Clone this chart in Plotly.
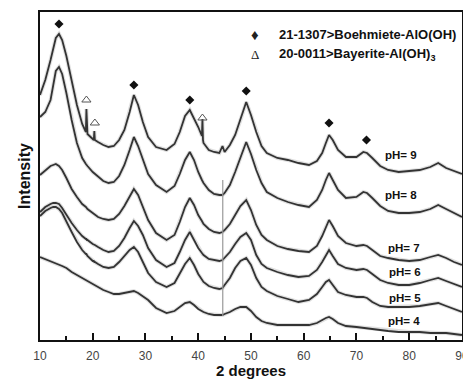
import plotly.graph_objects as go

# Diffraction angle grid (2 theta, degrees)
two_theta = [10, 11, 12, 12.5, 13, 13.6, 14.2, 15, 16, 17,
             18, 18.7, 18.8, 18.9, 19, 20, 20.2, 20.3, 20.4, 21,
             22, 23, 24, 25, 26, 27, 27.8, 28.6, 29.5, 30.5,
             32, 34, 35.5, 36.5, 37.5, 38.4, 39.2, 40, 40.7, 40.8,
             40.9, 41, 42, 43, 44, 44.6, 45, 46, 47, 48,
             49.1, 50, 51, 52, 53, 55, 57, 59, 61, 62.5,
             63.5, 64.2, 64.8, 65.5, 66.5, 68, 70, 71.3, 72, 73,
             74.5, 76, 78, 80, 82, 84, 85.5, 87, 88.5, 90]

# Stacked intensities (a.u., offset per pattern)
int_ph9 = [245, 260, 280, 292, 302, 306, 300, 284, 258, 235,
           216, 208, 231, 207, 206, 201, 200, 209, 200, 198,
           195, 193, 194, 200, 210, 228, 245, 235, 218, 203,
           193, 190, 196, 208, 224, 230, 222, 213, 204, 221,
           200, 197, 190, 188, 187, 194, 188, 195, 205, 220,
           238, 225, 208, 194, 187, 182, 180, 177, 175, 179,
           187, 197, 205, 200, 190, 183, 183, 188, 187, 182,
           174, 170, 168, 169, 170, 173, 177, 172, 169, 166]
int_ph8 = [223, 228, 240, 256, 269, 273, 266, 247, 220, 197,
           182, 176, 175, 175, 174, 168, 167, 167, 166, 163,
           159, 157, 158, 164, 175, 190, 203, 194, 180, 166,
           155, 148, 154, 166, 180, 188, 180, 168, 160, 159,
           158, 157, 150, 146, 145, 145, 147, 155, 168, 183,
           198, 186, 170, 157, 148, 142, 138, 135, 133, 140,
           150, 160, 167, 160, 150, 142, 143, 148, 147, 142,
           134, 129, 127, 127, 128, 131, 135, 131, 127, 123]
int_ph7 = [165, 170, 174, 175, 176, 174, 170, 162, 151, 143,
           136, 133, 132, 132, 131, 127, 126, 126, 125, 123,
           121, 120, 121, 126, 134, 144, 151, 145, 134, 120,
           107, 100, 105, 118, 133, 142, 135, 125, 119, 118,
           117, 116, 111, 108, 107, 108, 110, 116, 125, 134,
           140, 130, 115, 105, 100, 94, 91, 89, 88, 94,
           104, 113, 120, 114, 104, 97, 94, 95, 94, 90,
           84, 82, 80, 79, 80, 83, 85, 82, 78, 75]
int_ph6 = [128, 133, 136, 137, 137, 136, 132, 125, 117, 110,
           104, 101, 101, 100, 100, 96, 95, 95, 95, 93,
           90, 88, 89, 94, 102, 112, 119, 114, 105, 92,
           80, 73, 77, 88, 100, 108, 100, 92, 87, 86,
           86, 85, 81, 80, 79, 80, 82, 88, 96, 103,
           107, 100, 85, 76, 72, 68, 65, 63, 64, 70,
           78, 85, 90, 84, 76, 72, 70, 71, 70, 66,
           60, 57, 55, 55, 57, 60, 62, 59, 56, 53]
int_ph5 = [124, 129, 132, 133, 133, 131, 127, 118, 108, 98,
           90, 86, 86, 85, 84, 79, 79, 78, 78, 76,
           73, 72, 73, 78, 84, 90, 93, 88, 78, 67,
           58, 53, 57, 66, 76, 82, 75, 66, 61, 60,
           59, 58, 54, 52, 51, 52, 55, 62, 72, 79,
           82, 75, 62, 53, 49, 44, 41, 38, 40, 46,
           53, 58, 60, 55, 48, 45, 43, 43, 42, 38,
           34, 33, 33, 33, 34, 36, 37, 34, 31, 28]
int_ph4 = [83, 81, 79, 78, 77, 75, 74, 72, 68, 65,
           62, 60, 60, 59, 59, 56, 55, 55, 55, 53,
           50, 48, 46, 46, 47, 48, 49, 47, 44, 40,
           32, 27, 29, 33, 37, 38, 35, 31, 29, 29,
           28, 28, 26, 25, 25, 25, 26, 28, 31, 33,
           33, 29, 23, 19, 17, 15, 15, 15, 15, 17,
           20, 22, 23, 21, 17, 14, 13, 12, 12, 11,
           10, 9, 8, 8, 8, 7, 7, 7, 6, 5]

patterns = [int_ph9, int_ph8, int_ph7, int_ph6, int_ph5, int_ph4]
pattern_labels = ["pH= 9", "pH= 8", "pH= 7", "pH= 6", "pH= 5", "pH= 4"]
label_2theta = [78.4, 78.4, 79.0, 79.2, 79.2, 79.0]
label_int = [185, 145, 92, 68, 42, 19]

# Sharp reflection from the sample holder near 44.6 degrees
holder_2theta = [44.65, 44.65]
holder_int = [24, 160]

# Phase identification marks
boehmite_2theta = [13.6, 27.8, 38.4, 49.1, 64.8, 71.9]
boehmite_int = [316, 255, 240, 249, 217, 200]
bayerite_2theta = [18.8, 20.4, 40.8]
bayerite_int = [240, 217, 222]

# Phase key (symbol, card text)
key_symbols = ["\u2666", "\u0394"]
key_sizes = [15, 13]
key_texts = ["21-1307>Boehmiete-AlO(OH)", "20-0011>Bayerite-Al(OH)<sub>3</sub>"]
key_rows = [0.930, 0.870]

x_ticks = [10, 20, 30, 40, 50, 60, 70, 80, 90]

FONT = "Liberation Sans, Arial, sans-serif"
SERIF = "Liberation Serif, Times New Roman, serif"
LINE = "#333333"

fig = go.Figure()

# soft grey halo under each trace, then the trace itself
for vals in patterns:
    fig.add_trace(go.Scatter(
        x=two_theta, y=vals, mode="lines",
        line=dict(color="rgba(0,0,0,0.12)", width=4),
        showlegend=False, hoverinfo="skip"))
for vals in patterns:
    fig.add_trace(go.Scatter(
        x=two_theta, y=vals, mode="lines",
        line=dict(color=LINE, width=1.8),
        showlegend=False, hoverinfo="skip"))

fig.add_trace(go.Scatter(
    x=holder_2theta, y=holder_int, mode="lines",
    line=dict(color="#9a9a9a", width=1.2),
    showlegend=False, hoverinfo="skip"))

fig.add_trace(go.Scatter(
    x=boehmite_2theta, y=boehmite_int, mode="markers",
    marker=dict(symbol="diamond", size=7, color="#111111"),
    name="21-1307>Boehmiete-AlO(OH)", showlegend=False))

fig.add_trace(go.Scatter(
    x=bayerite_2theta, y=bayerite_int, mode="markers",
    marker=dict(symbol="triangle-up-open", size=8,
                color="#555555", line=dict(width=1, color="#555555")),
    name="20-0011>Bayerite-Al(OH)3", showlegend=False))

# phase key in the upper right of the plot
for sym, ssz, txt, yr in zip(key_symbols, key_sizes, key_texts, key_rows):
    fig.add_annotation(xref="paper", yref="paper", x=0.5095, y=yr,
                       text=sym, showarrow=False, xanchor="center",
                       yanchor="middle",
                       font=dict(family=SERIF, size=ssz, color="#222222"))
    fig.add_annotation(xref="paper", yref="paper", x=0.562, y=yr,
                       text="<b>%s</b>" % txt, showarrow=False,
                       xanchor="left", yanchor="middle",
                       font=dict(family=FONT, size=13, color="#111111"))

for txt, xv, yv in zip(pattern_labels, label_2theta, label_int):
    fig.add_annotation(x=xv, y=yv, text="<b>%s</b>" % txt, showarrow=False,
                       font=dict(family=FONT, size=11.5, color="#111111"),
                       xanchor="center", yanchor="middle")

fig.update_xaxes(
    range=[10, 90.01], tickvals=x_ticks, ticktext=[str(v) for v in x_ticks],
    ticks="inside", ticklen=7, tickwidth=2, tickcolor="#111111",
    minor=dict(dtick=5, tick0=10, ticks="inside", ticklen=4, tickwidth=2,
               tickcolor="#111111"),
    showline=True, linewidth=2, linecolor="#111111", mirror=True,
    showgrid=False, zeroline=False, automargin=False,
    tickfont=dict(family=FONT, size=12, color="#444444"),
    ticklabelstandoff=4, ticklabeloverflow="allow",
    title=dict(text="<b>2 degrees</b>", standoff=7,
               font=dict(family=FONT, size=15, color="#111111")))

fig.update_yaxes(
    range=[0, 328], showticklabels=False, ticks="",
    showline=True, linewidth=2, linecolor="#111111", mirror=True,
    showgrid=False, zeroline=False, automargin=False,
    title=dict(text="<b>Intensity</b>", standoff=3,
               font=dict(family=FONT, size=16, color="#111111")))

fig.update_layout(
    width=463, height=379,
    margin=dict(l=40, r=1, t=12, b=39),
    paper_bgcolor="white", plot_bgcolor="white",
    font=dict(family=FONT, color="#111111"),
    showlegend=False,
)

fig.write_html("out.html", config={"displayModeBar": False})
